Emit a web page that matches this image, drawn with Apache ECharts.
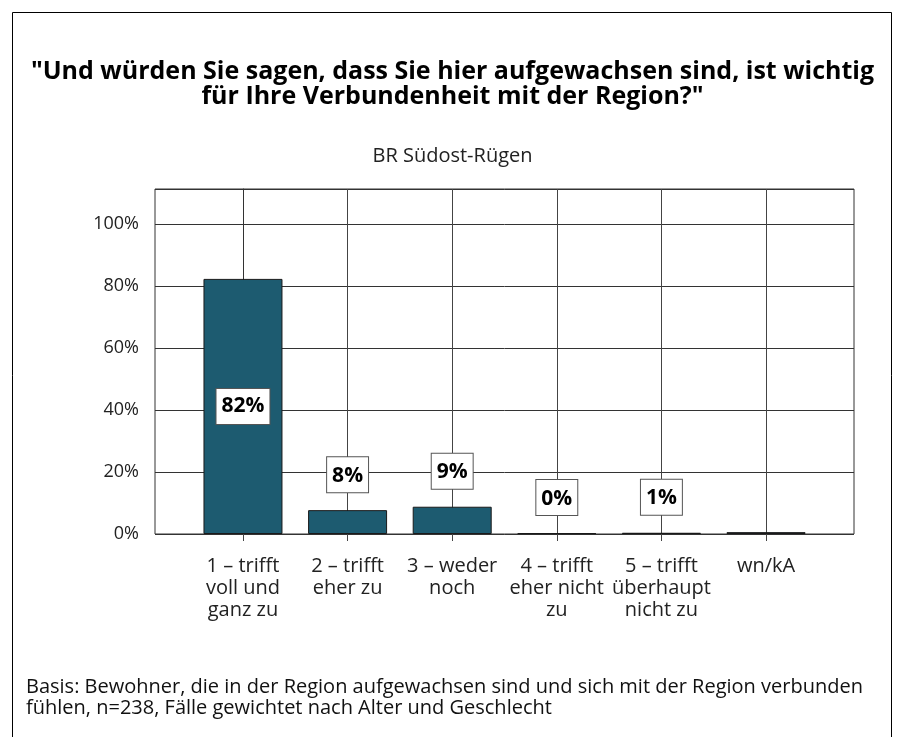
<!DOCTYPE html>
<html>
<head>
<meta charset="utf-8">
<script src="https://cdn.jsdelivr.net/npm/echarts@6/dist/echarts.min.js"></script>
<style>
  html, body { margin: 0; padding: 0; background: #fff; }
  #main { width: 905px; height: 737px; }
</style>
</head>
<body>
<div id="main"></div>
<script>
    // Kategorien und Werte (Prozent)
    var categories = ['1 – trifft\nvoll und\nganz zu', '2 – trifft\neher zu', '3 – weder\nnoch',
        '4 – trifft\neher nicht\nzu', '5 – trifft\nüberhaupt\nnicht zu', 'wn/kA'];
    var values = [82.3, 7.7, 8.8, 0.3, 0.4, 0.6];
    var valueLabels = ['82%', '8%', '9%', '0%', '1%', ''];
    var yTicks = [0, 20, 40, 60, 80, 100];

    var FONT = 'Open Sans';
    var myChart = echarts.init(document.getElementById('main'));

    var barData = [];
    for (var i = 0; i < values.length; i++) {
        var item = { value: [i, values[i]] };
        if (valueLabels[i] === '') {
            item.label = { show: false };
        } else if (values[i] > 50) {
            item.label = { position: 'inside' };
        }
        barData.push(item);
    }

    var option = {
        animation: false,
        backgroundColor: '#fff',
        textStyle: { fontFamily: FONT },
        title: [
            {
                text: '"Und würden Sie sagen, dass Sie hier aufgewachsen sind, ist wichtig\nfür Ihre Verbundenheit mit der Region?"',
                left: 'center',
                top: 59,
                padding: 0,
                textStyle: { fontFamily: FONT, fontSize: 25, fontWeight: 'bold', color: '#000', lineHeight: 25 }
            },
            {
                text: 'BR Südost-Rügen',
                left: 'center',
                top: 146,
                padding: 0,
                textStyle: { fontFamily: FONT, fontSize: 20, fontWeight: 'normal', color: '#222' }
            },
            {
                text: 'Basis: Bewohner, die in der Region aufgewachsen sind und sich mit der Region verbunden\nfühlen, n=238, Fälle gewichtet nach Alter und Geschlecht',
                left: 26,
                top: 677,
                padding: 0,
                textStyle: { fontFamily: FONT, fontSize: 20, fontWeight: 'normal', color: '#111', lineHeight: 21 }
            }
        ],
        graphic: [
            {
                type: 'rect',
                shape: { x: 12.5, y: 12.5, width: 879, height: 740 },
                style: { fill: 'none', stroke: '#000', lineWidth: 1 },
                silent: true
            }
        ],
        grid: { left: 155, right: 51, top: 189, bottom: 203, show: true, borderColor: '#333', borderWidth: 1 },
        xAxis: {
            type: 'value',
            min: -0.841,
            max: 5.841,
            axisLine: { show: false },
            axisTick: { show: true, customValues: [0, 1, 2, 3, 4, 5], length: 7, lineStyle: { color: '#444' } },
            axisLabel: {
                customValues: [0, 1, 2, 3, 4, 5],
                fontFamily: FONT, fontSize: 20, color: '#222', lineHeight: 22, margin: 21,
                formatter: function (v) { return categories[Math.round(v)] || ''; }
            },
            splitLine: { show: true, lineStyle: { color: '#444', width: 1 } }
        },
        yAxis: {
            type: 'value',
            min: 0,
            max: 111.3,
            interval: 20,
            axisLine: { show: true, lineStyle: { color: '#333' } },
            axisTick: { show: true, length: 14, lineStyle: { color: '#333' } },
            axisLabel: {
                fontFamily: FONT, fontSize: 18, color: '#222', margin: 16, showMaxLabel: false,
                formatter: function (v) { return yTicks.indexOf(v) >= 0 ? v + '%' : ''; }
            },
            splitLine: { show: true, lineStyle: { color: '#333', width: 1 } }
        },
        series: [
            {
                type: 'bar',
                data: barData,
                barWidth: 79,
                itemStyle: { color: '#1d5b70', borderColor: '#1a1a1a', borderWidth: 1 },
                label: {
                    show: true,
                    position: 'top',
                    distance: 18,
                    formatter: function (p) { return valueLabels[p.dataIndex]; },
                    fontFamily: FONT, fontSize: 21, fontWeight: 'bold', color: '#000',
                    backgroundColor: '#fff', borderColor: '#555', borderWidth: 1,
                    padding: [8, 5, 6, 5]
                }
            }
        ]
    };
    myChart.setOption(option);
</script>
</body>
</html>
